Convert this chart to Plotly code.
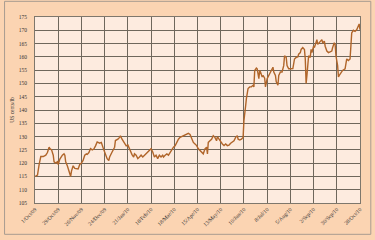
import pandas as pd
import plotly.graph_objects as go

start_date = "2009-10-01"
# days since 1 Oct 2009
days = [0, 3, 5, 7, 10, 13, 15, 17, 18, 20, 22, 23, 25, 27, 28, 30, 33, 35, 36, 37,
        39, 41, 43, 44, 46, 48, 50, 52, 54, 56, 58, 60, 62, 63, 65, 67, 69, 71, 73, 75,
        78, 80, 83, 85, 87, 89, 90, 93, 96, 97, 100, 102, 103, 105, 107, 108, 110, 112, 113, 115,
        117, 119, 120, 122, 124, 126, 128, 130, 132, 134, 136, 138, 140, 142, 144, 146, 148, 150, 152, 154,
        155, 157, 159, 161, 163, 165, 167, 169, 171, 173, 175, 177, 179, 181, 183, 185, 187, 189, 191, 193,
        195, 197, 199, 201, 203, 205, 207, 208, 209, 211, 213, 215, 217, 219, 220, 222, 224, 226, 228, 230,
        232, 234, 236, 238, 240, 242, 244, 245, 247, 249, 251, 252, 253, 254, 255, 256, 257, 259, 261, 263,
        264, 265, 267, 268, 270, 271, 272, 274, 275, 277, 278, 280, 282, 284, 286, 287, 288, 290, 291, 293,
        294, 296, 298, 300, 301, 303, 304, 306, 308, 311, 313, 315, 317, 318, 320, 321, 323, 325, 326, 327,
        328, 329, 330, 332, 333, 334, 336, 337, 339, 340, 341, 343, 345, 346, 347, 349, 350, 352, 354, 356,
        358, 359, 361, 362, 363, 365, 366, 367, 368, 369, 371, 374, 375, 376, 378, 380, 381, 382, 384, 386,
        388, 390, 391, 392]
price = [115, 115.5, 119.5, 122.5, 122.5, 123, 124, 126, 125.5, 125, 123, 120.5, 120, 120.5, 119.5, 121.5, 123, 123.5, 123, 120.5,
         119, 116.5, 115, 117, 119, 118, 118, 117.8, 119.5, 120, 121, 123, 123.5, 123.3, 124, 125.5, 125, 125.3, 126.5, 128,
         127.5, 127.8, 125, 123, 121.7, 121, 122.3, 124.2, 126, 128.5, 129, 129.7, 130.3, 129, 127.8, 127.2, 126.5, 126.8, 126, 124.2,
         123.2, 122.3, 123.5, 123, 121.7, 122.3, 123, 122.3, 123, 123.5, 124.2, 124.8, 125.4, 124.2, 122.3, 123, 121.7, 123, 122.3, 123,
         122.3, 123, 123.5, 123, 124, 125.5, 126, 126.5, 127.8, 129, 129.7, 130, 130.3, 130.5, 130.8, 131.2, 130.8, 129, 127.8, 127.2,
         126.6, 125.4, 124.8, 124.2, 123.5, 125.4, 126, 123.5, 127.8, 128.4, 129, 130.3, 129.7, 128.4, 130, 129, 127.8, 127.2, 126.6, 127.2,
         126.6, 126.8, 127.5, 128, 128.4, 129.7, 130.3, 129, 128.7, 129, 129.7, 136, 140.1, 141.4, 144.4, 146.9, 148.1, 148.7, 148.7, 149.3,
         148.7, 154.9, 155.8, 155.5, 151.8, 154.9, 154.3, 152.4, 153, 152, 148.7, 151.8, 153, 154.3, 155.5, 156.1, 154.3, 153, 150.6, 149.3,
         153, 154.3, 154.3, 156.7, 160.4, 159.8, 156.7, 155.5, 155.5, 155.6, 159.2, 159.8, 160, 161, 161.6, 162.8, 163.5, 162.8, 159.2, 150,
         153, 159.2, 160.4, 159.8, 162.8, 161.6, 164, 163.5, 165.3, 166.5, 164.7, 165.3, 165.9, 166.5, 165.3, 165.9, 164, 162.2, 161.6, 161.8,
         162.2, 163.5, 165.3, 164.7, 160.4, 156.7, 152.4, 153, 153.6, 154.3, 154.9, 155.5, 157.9, 159.2, 158.6, 159.2, 164, 169, 170, 169.6,
         170.2, 171.4, 172.4, 170.2]

tick_days = [0, 28, 56, 84, 112, 140, 168, 196, 224, 252, 280, 308, 336, 364, 392]
tick_labels = ["1/Oct/09", "29/Oct/09", "26/Nov/09", "24/Dec/09", "21/Jan/10", "18/Feb/10",
               "18/Mar/10", "15/Apr/10", "13/May/10", "10/Jun/10", "8/Jul/10", "5/Aug/10",
               "2/Sep/10", "30/Sep/10", "28/Oct/10"]
y_ticks = list(range(105, 176, 5))

t0 = pd.Timestamp(start_date)
dates = [t0 + pd.Timedelta(days=d) for d in days]
tick_dates = [t0 + pd.Timedelta(days=d) for d in tick_days]

fig = go.Figure()
fig.add_trace(go.Scatter(x=dates, y=price, mode="lines",
                         line=dict(color="#B0652A", width=1.4), showlegend=False))

axis_font = dict(family="Liberation Serif", size=5.5, color="#333333")
fig.update_xaxes(range=[tick_dates[0], tick_dates[-1]], tickvals=tick_dates, ticktext=tick_labels,
                 tickangle=-45, tickfont=axis_font, showgrid=True, gridcolor="#6e675c", gridwidth=0.8,
                 showline=True, linecolor="#7e776c", linewidth=1, mirror=True, ticks="", zeroline=False)
fig.update_yaxes(range=[105, 175], tickvals=y_ticks, tickfont=axis_font, showgrid=True,
                 gridcolor="#6e675c", gridwidth=0.8, showline=True, linecolor="#7e776c", linewidth=1,
                 mirror=True, ticks="", zeroline=False, ticklabelstandoff=6,
                 title=dict(text="US cents/lb", font=dict(family="Liberation Serif", size=5.5, color="#333333"),
                            standoff=3))

L, R, T, B = 32, 12, 17, 33
W, H = 375, 240
pw, ph = W - L - R, H - T - B
fig.add_shape(type="rect", xref="paper", yref="paper",
              x0=-(L - 1) / pw, x1=1 + (R - 1) / pw, y0=-(B - 1) / ph, y1=1 + (T - 1) / ph,
              line=dict(color="#a89c90", width=1), layer="below")

fig.update_layout(width=W, height=H, margin=dict(l=L, r=R, t=T, b=B),
                  paper_bgcolor="#FBD4B2", plot_bgcolor="#FDEBDF")
fig.write_html("out.html")
